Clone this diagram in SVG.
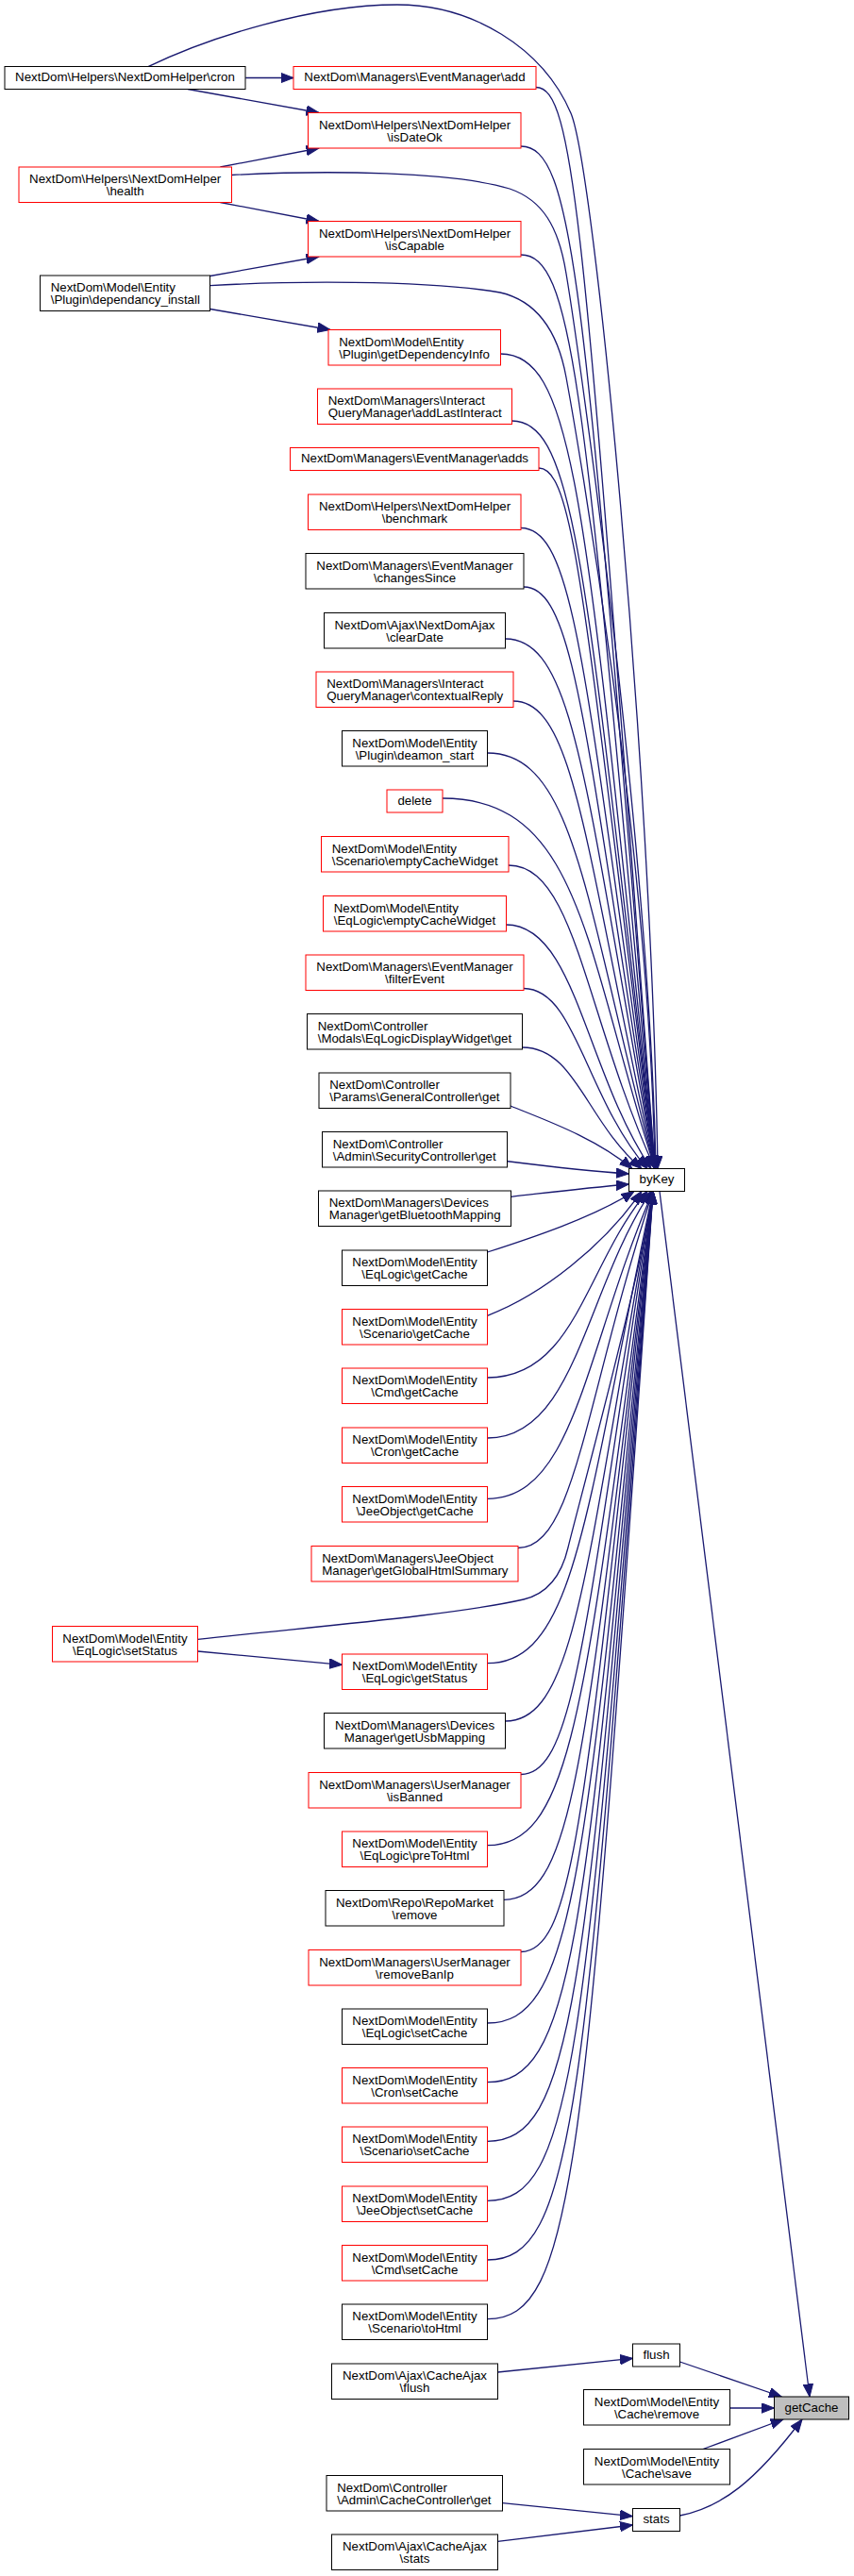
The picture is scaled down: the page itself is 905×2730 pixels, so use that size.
<svg xmlns="http://www.w3.org/2000/svg" width="905" height="2730" viewBox="0 0 905 2730">
<defs>
<marker id="ah" markerUnits="userSpaceOnUse" markerWidth="14" markerHeight="11" refX="13.5" refY="5.25" orient="auto"><path d="M0,0 L13.5,5.25 L0,10.5 z" fill="#191970" stroke="#191970" stroke-width="1"/></marker>
</defs>
<style>
rect{fill:#fff;stroke:#000;stroke-width:1}
.r rect{stroke:#ff0000}
.root rect{fill:#bfbfbf}
text{font-family:'Liberation Sans',Arial,Helvetica,sans-serif;font-size:13.3px;fill:#000}
.c text{text-anchor:middle}
.l text{text-anchor:start}
#edges path{fill:none;stroke:#191970;stroke-width:1.3;marker-end:url(#ah)}
</style>
<rect x="0" y="0" width="905" height="2730" style="fill:#fff;stroke:none"/>
<g id="edges">
<path d="M157,70.7 C220,40 330,5 421,5 C500,5 575,50 605,120 C630,180 690,800 697,1238.5"/>
<path d="M245.3,185.5 C350,180 480,182 540,200 C575,212 592,240 600,290 C615,380 688,900 695,1238.5"/>
<path d="M222.7,302.7 C300,298 450,296 530,310 C565,318 590,345 600,400 C611,460 688,900 694,1238.5"/>
<path d="M568,92.5 C610,92.5 620,252.5 694,1238.5"/>
<path d="M552,155 C610,155 620,315 694,1238.5"/>
<path d="M552,270 C610,270 620,430 694,1238.5"/>
<path d="M530.5,375 C610,375 620,535 694,1238.5"/>
<path d="M542.5,446 C610,446 620,606 694,1238.5"/>
<path d="M571,496 C610,496 620,656 694,1238.5"/>
<path d="M552,559.5 C610,559.5 620,719.5 694,1238.5"/>
<path d="M555,622 C610,622 620,782 694,1238.5"/>
<path d="M535.5,677 C610,677 620,837 694,1238.5"/>
<path d="M544,743 C610,743 620,903 694,1238.5"/>
<path d="M516.5,798 C610,798 620,958 694,1238.5"/>
<path d="M469,846 C615,846 620,1006 694,1238.5"/>
<path d="M539,917 C610,917 620,1077 694,1238.5"/>
<path d="M536.5,980 C610,980 620,1135 690,1238.5"/>
<path d="M555,1047.5 C610,1047.5 620,1162 686,1238.5"/>
<path d="M553.5,1110 C610,1110 620,1187 680,1238.5"/>
<path d="M541,1172 C575,1186 630,1205 670,1238.5"/>
<path d="M537.5,1230.7 C580,1236 620,1241 666.5,1244"/>
<path d="M541.5,1268.3 C580,1264 620,1259 666.5,1255"/>
<path d="M516.5,1327 C560,1313 630,1290 672,1262.5"/>
<path d="M516.5,1394.3 C575,1372 640,1320 680,1262.5"/>
<path d="M516.5,1460 C610,1460 620,1341.5 686,1262.5"/>
<path d="M516.5,1524 C610,1524 620,1367 690,1262.5"/>
<path d="M516.5,1588.3 C610,1588.3 620,1428.3 692,1262.5"/>
<path d="M549,1640.5 C610,1640.5 620,1480.5 692,1262.5"/>
<path d="M209.7,1737.3 C330,1724 480,1712 555,1695 C580,1689 595,1670 602,1640 C609,1610 680,1350 692,1262.5"/>
<path d="M516.5,1762.7 C610,1762.7 620,1602.7 692,1262.5"/>
<path d="M535.5,1824 C610,1824 620,1664 692,1262.5"/>
<path d="M552,1880.5 C610,1880.5 620,1720.5 692,1262.5"/>
<path d="M516.5,1955.7 C610,1955.7 620,1795.7 692,1262.5"/>
<path d="M534,2013.3 C610,2013.3 620,1853.3 692,1262.5"/>
<path d="M552,2068.5 C610,2068.5 620,1908.5 692,1262.5"/>
<path d="M516.5,2144 C610,2144 620,1984 692,1262.5"/>
<path d="M516.5,2206.7 C610,2206.7 620,2046.7 692,1262.5"/>
<path d="M516.5,2269.3 C610,2269.3 620,2109.3 692,1262.5"/>
<path d="M516.5,2332.3 C610,2332.3 620,2172.3 692,1262.5"/>
<path d="M516.5,2395 C610,2395 620,2235 692,1262.5"/>
<path d="M516.5,2457.7 C610,2457.7 620,2297.7 692,1262.5"/>
<path d="M260.2,82.5 L311,82.5"/>
<path d="M199,94.5 L338,119.5"/>
<path d="M233.4,177 L338,157"/>
<path d="M233.4,214.5 L338,234.5"/>
<path d="M222.7,292.5 L338,272"/>
<path d="M222.7,327.5 L350,349.5"/>
<path d="M209.7,1750 L362.5,1764.3"/>
<path d="M527.5,2514 L670.5,2499.3"/>
<path d="M532.5,2652.7 L670.5,2666.7"/>
<path d="M527.5,2693.3 L670.5,2676"/>
<path d="M720.5,2503 L828.3,2540"/>
<path d="M773.5,2552 L820.5,2552"/>
<path d="M745,2595.5 L830,2564"/>
<path d="M720.5,2666 C765,2657 800,2630 850,2564"/>
<path d="M699,1262.5 L858,2540"/>
</g>
<g id="n_cron" class="c"><rect x="5" y="70.5" width="255" height="24"/><text x="132.5" y="86.1">NextDom\Helpers\NextDomHelper\cron</text></g>
<g id="n_health" class="c r"><rect x="20" y="177" width="225.5" height="37.5"/><text x="132.7" y="194">NextDom\Helpers\NextDomHelper</text><text x="132.7" y="207.3">\health</text></g>
<g id="n_depinstall" class="l"><rect x="42.5" y="292" width="180" height="37.5"/><text x="53.7" y="309">NextDom\Model\Entity</text><text x="53.7" y="322.3">\Plugin\dependancy_install</text></g>
<g id="n_setStatus" class="c r"><rect x="55.5" y="1723.5" width="154" height="37.5"/><text x="132.5" y="1740.5">NextDom\Model\Entity</text><text x="132.5" y="1753.8">\EqLogic\setStatus</text></g>
<g id="n_add" class="c r"><rect x="311" y="70.5" width="257" height="24"/><text x="439.5" y="86.1">NextDom\Managers\EventManager\add</text></g>
<g id="n_isDateOk" class="c r"><rect x="326.5" y="119.5" width="225.5" height="37.5"/><text x="439.5" y="136.5">NextDom\Helpers\NextDomHelper</text><text x="439.5" y="149.8">\isDateOk</text></g>
<g id="n_isCapable" class="c r"><rect x="326.5" y="234.5" width="225.5" height="37.5"/><text x="439.5" y="251.5">NextDom\Helpers\NextDomHelper</text><text x="439.5" y="264.8">\isCapable</text></g>
<g id="n_getDependencyInfo" class="l r"><rect x="348" y="349.5" width="182.5" height="37.5"/><text x="359.2" y="366.5">NextDom\Model\Entity</text><text x="359.2" y="379.8">\Plugin\getDependencyInfo</text></g>
<g id="n_addLastInteract" class="l r"><rect x="336.5" y="412" width="206" height="37.5"/><text x="347.7" y="429">NextDom\Managers\Interact</text><text x="347.7" y="442.3">QueryManager\addLastInteract</text></g>
<g id="n_adds" class="c r"><rect x="307.5" y="474.5" width="263.5" height="24"/><text x="439.5" y="490.1">NextDom\Managers\EventManager\adds</text></g>
<g id="n_benchmark" class="c r"><rect x="326.5" y="524" width="225.5" height="37.5"/><text x="439.5" y="541">NextDom\Helpers\NextDomHelper</text><text x="439.5" y="554.3">\benchmark</text></g>
<g id="n_changesSince" class="c"><rect x="324" y="586.5" width="231" height="37.5"/><text x="439.5" y="603.5">NextDom\Managers\EventManager</text><text x="439.5" y="616.8">\changesSince</text></g>
<g id="n_clearDate" class="c"><rect x="343.5" y="649.5" width="192" height="37.5"/><text x="439.5" y="666.5">NextDom\Ajax\NextDomAjax</text><text x="439.5" y="679.8">\clearDate</text></g>
<g id="n_contextualReply" class="l r"><rect x="335" y="712" width="209" height="37.5"/><text x="346.2" y="729">NextDom\Managers\Interact</text><text x="346.2" y="742.3">QueryManager\contextualReply</text></g>
<g id="n_deamon_start" class="c"><rect x="362.5" y="774.5" width="154" height="37.5"/><text x="439.5" y="791.5">NextDom\Model\Entity</text><text x="439.5" y="804.8">\Plugin\deamon_start</text></g>
<g id="n_delete" class="c r"><rect x="410" y="837" width="59" height="24"/><text x="439.5" y="852.6">delete</text></g>
<g id="n_scenEmptyCacheWidget" class="l r"><rect x="340.5" y="886.5" width="198.5" height="37.5"/><text x="351.7" y="903.5">NextDom\Model\Entity</text><text x="351.7" y="916.8">\Scenario\emptyCacheWidget</text></g>
<g id="n_eqEmptyCacheWidget" class="l r"><rect x="342.5" y="949.5" width="194" height="37.5"/><text x="353.7" y="966.5">NextDom\Model\Entity</text><text x="353.7" y="979.8">\EqLogic\emptyCacheWidget</text></g>
<g id="n_filterEvent" class="c r"><rect x="324" y="1012" width="231" height="37.5"/><text x="439.5" y="1029">NextDom\Managers\EventManager</text><text x="439.5" y="1042.3">\filterEvent</text></g>
<g id="n_eqDisplayWidget" class="l"><rect x="325.5" y="1074.5" width="228" height="37.5"/><text x="336.7" y="1091.5">NextDom\Controller</text><text x="336.7" y="1104.8">\Modals\EqLogicDisplayWidget\get</text></g>
<g id="n_generalController" class="l"><rect x="338" y="1137" width="203" height="37.5"/><text x="349.2" y="1154">NextDom\Controller</text><text x="349.2" y="1167.3">\Params\GeneralController\get</text></g>
<g id="n_securityController" class="l"><rect x="341.5" y="1199.5" width="196" height="37.5"/><text x="352.7" y="1216.5">NextDom\Controller</text><text x="352.7" y="1229.8">\Admin\SecurityController\get</text></g>
<g id="n_bluetooth" class="l"><rect x="337.5" y="1262" width="204" height="37.5"/><text x="348.7" y="1279">NextDom\Managers\Devices</text><text x="348.7" y="1292.3">Manager\getBluetoothMapping</text></g>
<g id="n_eqGetCache" class="c"><rect x="362.5" y="1325" width="154" height="37.5"/><text x="439.5" y="1342">NextDom\Model\Entity</text><text x="439.5" y="1355.3">\EqLogic\getCache</text></g>
<g id="n_scenGetCache" class="c r"><rect x="362.5" y="1387.5" width="154" height="37.5"/><text x="439.5" y="1404.5">NextDom\Model\Entity</text><text x="439.5" y="1417.8">\Scenario\getCache</text></g>
<g id="n_cmdGetCache" class="c r"><rect x="362.5" y="1450" width="154" height="37.5"/><text x="439.5" y="1467">NextDom\Model\Entity</text><text x="439.5" y="1480.3">\Cmd\getCache</text></g>
<g id="n_cronGetCache" class="c r"><rect x="362.5" y="1513" width="154" height="37.5"/><text x="439.5" y="1530">NextDom\Model\Entity</text><text x="439.5" y="1543.3">\Cron\getCache</text></g>
<g id="n_jeeGetCache" class="c r"><rect x="362.5" y="1575.5" width="154" height="37.5"/><text x="439.5" y="1592.5">NextDom\Model\Entity</text><text x="439.5" y="1605.8">\JeeObject\getCache</text></g>
<g id="n_globalHtml" class="l r"><rect x="330" y="1638.5" width="219" height="37.5"/><text x="341.2" y="1655.5">NextDom\Managers\JeeObject</text><text x="341.2" y="1668.8">Manager\getGlobalHtmlSummary</text></g>
<g id="n_getStatus" class="c r"><rect x="362.5" y="1753" width="154" height="37.5"/><text x="439.5" y="1770">NextDom\Model\Entity</text><text x="439.5" y="1783.3">\EqLogic\getStatus</text></g>
<g id="n_usbMapping" class="c"><rect x="343.5" y="1815.5" width="192" height="37.5"/><text x="439.5" y="1832.5">NextDom\Managers\Devices</text><text x="439.5" y="1845.8">Manager\getUsbMapping</text></g>
<g id="n_isBanned" class="c r"><rect x="327" y="1878.5" width="225" height="37.5"/><text x="439.5" y="1895.5">NextDom\Managers\UserManager</text><text x="439.5" y="1908.8">\isBanned</text></g>
<g id="n_preToHtml" class="c r"><rect x="362.5" y="1941" width="154" height="37.5"/><text x="439.5" y="1958">NextDom\Model\Entity</text><text x="439.5" y="1971.3">\EqLogic\preToHtml</text></g>
<g id="n_repoRemove" class="c"><rect x="345" y="2003.5" width="189" height="37.5"/><text x="439.5" y="2020.5">NextDom\Repo\RepoMarket</text><text x="439.5" y="2033.8">\remove</text></g>
<g id="n_removeBanIp" class="c r"><rect x="327" y="2066.5" width="225" height="37.5"/><text x="439.5" y="2083.5">NextDom\Managers\UserManager</text><text x="439.5" y="2096.8">\removeBanIp</text></g>
<g id="n_eqSetCache" class="c"><rect x="362.5" y="2129" width="154" height="37.5"/><text x="439.5" y="2146">NextDom\Model\Entity</text><text x="439.5" y="2159.3">\EqLogic\setCache</text></g>
<g id="n_cronSetCache" class="c r"><rect x="362.5" y="2191.5" width="154" height="37.5"/><text x="439.5" y="2208.5">NextDom\Model\Entity</text><text x="439.5" y="2221.8">\Cron\setCache</text></g>
<g id="n_scenSetCache" class="c r"><rect x="362.5" y="2254" width="154" height="37.5"/><text x="439.5" y="2271">NextDom\Model\Entity</text><text x="439.5" y="2284.3">\Scenario\setCache</text></g>
<g id="n_jeeSetCache" class="c r"><rect x="362.5" y="2317" width="154" height="37.5"/><text x="439.5" y="2334">NextDom\Model\Entity</text><text x="439.5" y="2347.3">\JeeObject\setCache</text></g>
<g id="n_cmdSetCache" class="c r"><rect x="362.5" y="2379.5" width="154" height="37.5"/><text x="439.5" y="2396.5">NextDom\Model\Entity</text><text x="439.5" y="2409.8">\Cmd\setCache</text></g>
<g id="n_scenToHtml" class="c"><rect x="362.5" y="2442" width="154" height="37.5"/><text x="439.5" y="2459">NextDom\Model\Entity</text><text x="439.5" y="2472.3">\Scenario\toHtml</text></g>
<g id="n_ajaxFlush" class="c"><rect x="351.5" y="2505" width="176" height="37.5"/><text x="439.5" y="2522">NextDom\Ajax\CacheAjax</text><text x="439.5" y="2535.3">\flush</text></g>
<g id="n_cacheController" class="l"><rect x="346" y="2623.5" width="186.5" height="37.5"/><text x="357.2" y="2640.5">NextDom\Controller</text><text x="357.2" y="2653.8">\Admin\CacheController\get</text></g>
<g id="n_ajaxStats" class="c"><rect x="351.5" y="2686" width="176" height="37.5"/><text x="439.5" y="2703">NextDom\Ajax\CacheAjax</text><text x="439.5" y="2716.3">\stats</text></g>
<g id="n_byKey" class="c"><rect x="666.5" y="1238.5" width="59" height="24"/><text x="696" y="1254.1">byKey</text></g>
<g id="n_flush" class="c"><rect x="670.5" y="2484" width="50" height="24"/><text x="695.5" y="2499.6">flush</text></g>
<g id="n_cacheRemove" class="c"><rect x="618.5" y="2532.5" width="155" height="37.5"/><text x="696" y="2549.5">NextDom\Model\Entity</text><text x="696" y="2562.8">\Cache\remove</text></g>
<g id="n_cacheSave" class="c"><rect x="618.5" y="2595.5" width="155" height="37.5"/><text x="696" y="2612.5">NextDom\Model\Entity</text><text x="696" y="2625.8">\Cache\save</text></g>
<g id="n_stats" class="c"><rect x="670.5" y="2658.5" width="50" height="24"/><text x="695.5" y="2674.1">stats</text></g>
<g id="n_getCache" class="c root"><rect x="820.5" y="2540" width="79" height="24"/><text x="860" y="2555.6">getCache</text></g>
</svg>
